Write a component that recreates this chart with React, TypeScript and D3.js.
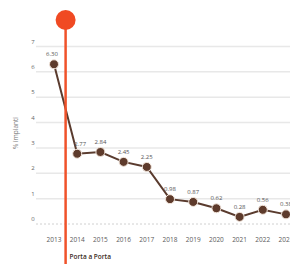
import React, { useEffect, useRef } from "react";
import * as d3 from "d3";

const years = ["2013", "2014", "2015", "2016", "2017", "2018", "2019", "2020", "2021", "2022", "2023"];
const values = [6.3, 2.77, 2.84, 2.45, 2.25, 0.98, 0.87, 0.62, 0.28, 0.56, 0.38];
const valueLabels = ["6.30", "2.77", "2.84", "2.45", "2.25", "0.98", "0.87", "0.62", "0.28", "0.56", "0.38"];
const yTicks = [0, 1, 2, 3, 4, 5, 6, 7];
const markerYear = 2013.5;
const markerLabel = "Porta a Porta";
const yTitle = "% impianti";

const App: React.FC = () => {
  const svgRef = useRef<SVGSVGElement>(null);

  useEffect(() => {
    if (!svgRef.current) return;
    const svg = d3.select(svgRef.current);
    svg.selectAll("*").remove();

    const width = 290;
    const height = 264;
    const font = "'Open Sans', sans-serif";

    const x = d3.scalePoint<string>().domain(years).range([54, 286]);
    const y = d3.scaleLinear().domain([0, 7]).range([224, 46.5]);

    // gridlines
    svg
      .append("g")
      .selectAll("line")
      .data(yTicks)
      .enter()
      .append("line")
      .attr("x1", 36)
      .attr("x2", width)
      .attr("y1", (d) => y(d))
      .attr("y2", (d) => y(d))
      .attr("stroke", (d) => (d === 0 ? "#d0d0d0" : "#e8e8e8"))
      .attr("stroke-width", (d) => (d === 0 ? 1 : 1.5))
      .attr("stroke-dasharray", (d) => (d === 0 ? "2,2" : null));

    // y tick labels
    svg
      .append("g")
      .selectAll("text")
      .data(yTicks)
      .enter()
      .append("text")
      .attr("x", 33)
      .attr("y", (d) => y(d) - 3)
      .attr("text-anchor", "middle")
      .attr("font-family", font)
      .attr("font-size", 6)
      .attr("fill", "#666")
      .text((d) => d);

    // y title
    svg
      .append("text")
      .attr("transform", `translate(18,133) rotate(-90)`)
      .attr("text-anchor", "middle")
      .attr("font-family", font)
      .attr("font-size", 6.5)
      .attr("fill", "#777")
      .text(yTitle);

    // x labels
    svg
      .append("g")
      .selectAll("text")
      .data(years)
      .enter()
      .append("text")
      .attr("x", (d) => x(d) || 0)
      .attr("y", 242)
      .attr("text-anchor", "middle")
      .attr("font-family", font)
      .attr("font-size", 6.5)
      .attr("fill", "#5a5a5a")
      .text((d) => d);

    // line
    const line = d3
      .line<number>()
      .x((_, i) => x(years[i]) || 0)
      .y((d) => y(d));

    svg
      .append("path")
      .datum(values)
      .attr("d", line)
      .attr("fill", "none")
      .attr("stroke", "#5a3b2e")
      .attr("stroke-width", 2);

    svg
      .append("g")
      .selectAll("circle")
      .data(values)
      .enter()
      .append("circle")
      .attr("cx", (_, i) => x(years[i]) || 0)
      .attr("cy", (d) => y(d))
      .attr("r", 4.5)
      .attr("fill", "#5e3b2c")
      .attr("stroke", "#f3e6dc")
      .attr("stroke-width", 1);

    svg
      .append("g")
      .selectAll("text")
      .data(values)
      .enter()
      .append("text")
      .attr("x", (_, i) => (x(years[i]) || 0) + (i === 0 ? -2 : i === 1 ? 3 : 0))
      .attr("y", (d) => y(d) - 8)
      .attr("text-anchor", "middle")
      .attr("font-family", font)
      .attr("font-size", 6)
      .attr("fill", "#555")
      .text((_, i) => valueLabels[i]);

    // marker line
    const step = x.step();
    const mx = (x("2013") || 0) + (markerYear - 2013) * step;
    svg
      .append("line")
      .attr("x1", mx)
      .attr("x2", mx)
      .attr("y1", 20)
      .attr("y2", height)
      .attr("stroke", "#f0522a")
      .attr("stroke-width", 2.5);

    svg
      .append("circle")
      .attr("cx", mx)
      .attr("cy", 20)
      .attr("r", 10)
      .attr("fill", "#f04a23");

    svg
      .append("text")
      .attr("x", mx + 4)
      .attr("y", 259)
      .attr("font-family", font)
      .attr("font-size", 6.5)
      .attr("font-weight", 600)
      .attr("fill", "#3a2a22")
      .text(markerLabel);
  }, []);

  return (
    <svg
      ref={svgRef}
      width={290}
      height={264}
      style={{ position: "absolute", left: 0, top: 0, background: "#fff" }}
    />
  );
};

export default App;
